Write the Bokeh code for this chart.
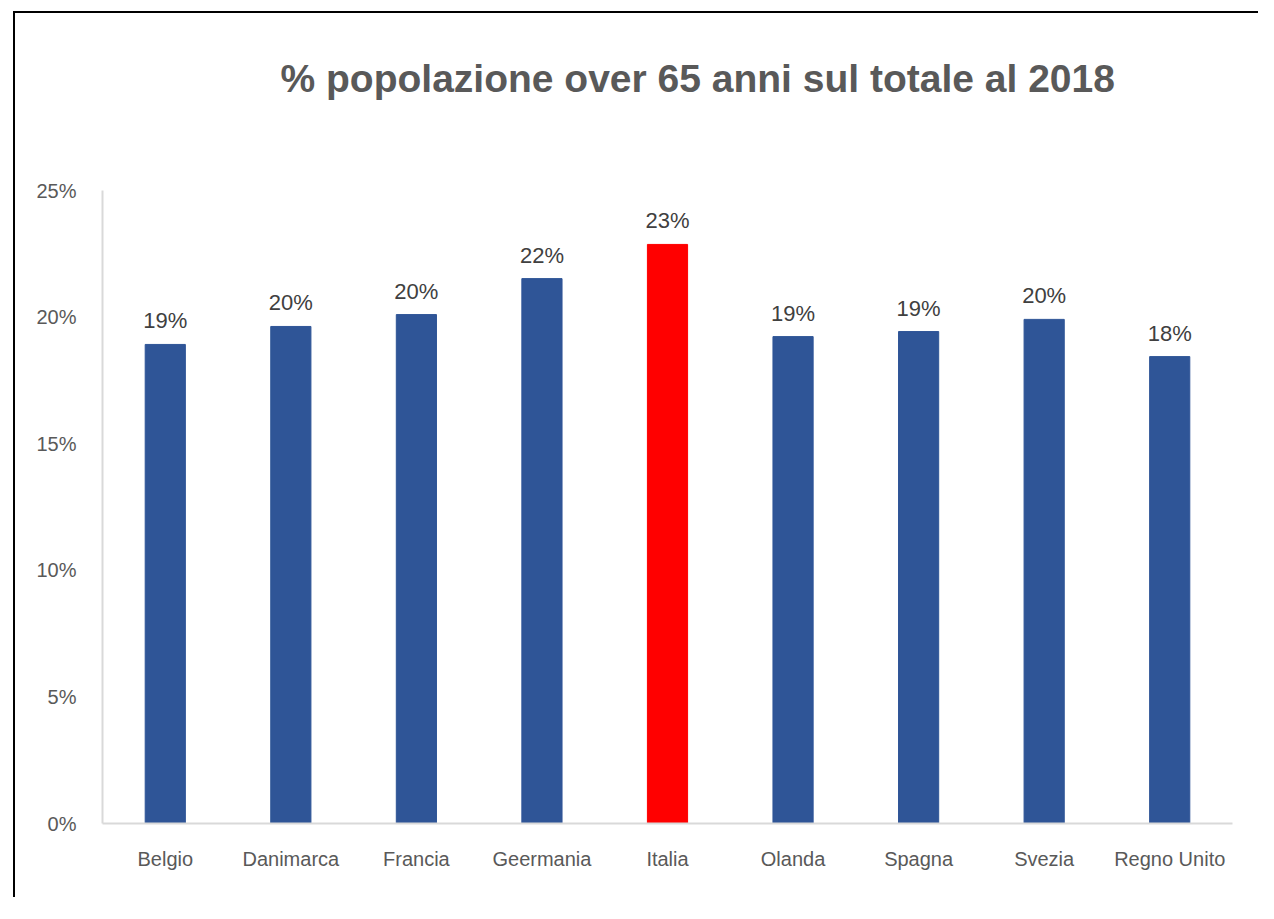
from bokeh.plotting import figure
from bokeh.models import ColumnDataSource, NumeralTickFormatter, FixedTicker, Title
from bokeh.embed import file_html
from bokeh.resources import INLINE
from bokeh.core.properties import value

title_text = "% popolazione over 65 anni sul totale al 2018"
countries = ["Belgio", "Danimarca", "Francia", "Geermania", "Italia",
             "Olanda", "Spagna", "Svezia", "Regno Unito"]
shares = [0.1892, 0.1963, 0.2010, 0.2152, 0.2287, 0.1923, 0.1943, 0.1991, 0.1844]
highlight = "Italia"
y_ticks = [0.0, 0.05, 0.10, 0.15, 0.20, 0.25]

BLUE = "#2F5597"
RED = "#FF0000"
colors = [RED if c == highlight else BLUE for c in countries]
labels = ["{:.0f}%".format(v * 100) for v in shares]

src = ColumnDataSource(dict(x=countries, top=shares, color=colors, label=labels))

W, H = 1245, 886
p = figure(x_range=countries, y_range=(0, 0.25), width=W, height=H,
           output_backend="svg", toolbar_location=None,
           min_border_left=87, min_border_right=28, min_border_top=176,
           min_border_bottom=76)
p.styles = {"border-left": "2px solid black", "border-top": "2px solid black",
            "border-right": "0px none", "border-bottom": "0px none",
            "margin-left": "13px", "margin-top": "11px"}
p.outline_line_color = None
p.xgrid.grid_line_color = None
p.ygrid.grid_line_color = None
p.background_fill_color = "white"
p.border_fill_color = "white"

p.title.text = title_text
p.title.align = "left"
p.title.offset = 178
p.title.standoff = 83
p.title.text_font = "Liberation Sans"
p.title.text_font_style = "bold"
p.title.text_font_size = "39px"
p.title.text_color = "#595959"

# empty spacer panel between the title and the plot area
p.add_layout(Title(text=" ", text_font_size="10px", standoff=36), "above")

p.vbar(x="x", top="top", bottom=0, width=0.32, color="color", source=src)
p.text(x="x", y="top", text="label", source=src, text_align="center",
       text_baseline="bottom", y_offset=-11, text_color="#404040",
       text_font=value("Liberation Sans"), text_font_size="22px")

ya = p.yaxis[0]
ya.ticker = FixedTicker(ticks=y_ticks)
ya.formatter = NumeralTickFormatter(format="0%")
ya.major_tick_line_color = None
ya.minor_tick_line_color = None
ya.axis_line_color = "#D9D9D9"
ya.axis_line_width = 2
ya.major_label_text_font = "Liberation Sans"
ya.major_label_text_font_size = "20px"
ya.major_label_text_color = "#595959"
ya.major_label_standoff = 20

xa = p.xaxis[0]
xa.major_tick_line_color = None
xa.minor_tick_line_color = None
xa.axis_line_color = "#D9D9D9"
xa.axis_line_width = 2
xa.major_label_text_font = "Liberation Sans"
xa.major_label_text_font_size = "20px"
xa.major_label_text_color = "#595959"
xa.major_label_standoff = 18

open("out.html", "w").write(file_html(p, INLINE))
